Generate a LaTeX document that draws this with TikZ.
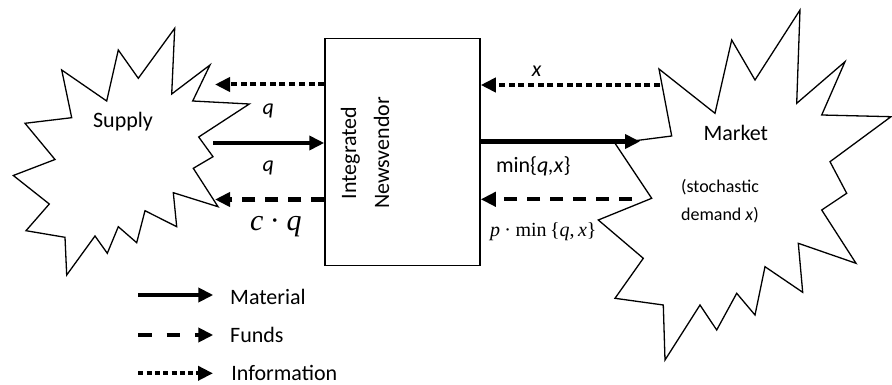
\documentclass[tikz,border=0pt]{standalone}
\usepackage{fontspec}
\setmainfont{Carlito}
\newfontfamily\tnr{Liberation Serif}
\usetikzlibrary{arrows.meta}
\begin{document}
\begin{tikzpicture}[x=1pt,y=-1pt,
  star/.style={draw=black, line width=1.3pt, line join=miter, fill=white},
  tip/.style={-{Triangle[length=15pt,width=14pt]}},
  mat/.style={tip, line width=4.5pt},
  fund/.style={tip, line width=4pt, dash pattern=on 13.3pt off 9.7pt},
  info/.style={tip, line width=4pt, dash pattern=on 6pt off 3.7pt},
  lfund/.style={tip, line width=4pt, dash pattern=on 13.3pt off 15pt},
  linfo/.style={tip, line width=4pt, dash pattern=on 5pt off 3.3pt},
  lbl/.style={inner sep=0pt, font=\fontsize{22}{26}\selectfont},
  tlbl/.style={inner sep=0pt},
]
\useasboundingbox (0,0) rectangle (892,385);

% Supply star
\draw[star] (174.7,28.3) -- (171.7,94) -- (210,65) -- (192.7,101) -- (249.3,104)
  -- (198.7,137) -- (213,156.7) -- (193.3,168.3) -- (218,206.7) -- (173.3,192.7)
  -- (176.7,226.7) -- (145,210.7) -- (136.7,242.7) -- (118.3,226.7) -- (107.3,253.3)
  -- (95,236) -- (66.7,275) -- (65,237.3) -- (26,230.7) -- (49.3,204) -- (13.3,175.5)
  -- (55,159.5) -- (25,123.3) -- (71.7,117.7) -- (61.7,70) -- (106.7,101)
  -- (118.3,50) -- (138.3,78.3) -- cycle;

% Market star
\draw[star] (659,69) -- (671.7,136) -- (615,143.3) -- (651.7,198.3) -- (598.3,220)
  -- (643.3,258.3) -- (615,298.3) -- (663.3,305) -- (665,360) -- (700,305)
  -- (716.7,330) -- (736.7,293.3) -- (755,315) -- (765,266.7) -- (802.7,292.3)
  -- (798.3,243.3) -- (856,263.3) -- (821.7,210) -- (846.7,193.3) -- (830,161.7)
  -- (891,116.7) -- (821.7,115) -- (845,61.7) -- (796.7,103.3) -- (800,10)
  -- (755,80) -- (731.7,40) -- (715,113.3) -- cycle;

\node[lbl] (supply) at (123,122) {Supply};
\node[lbl] (market) at (735.8,132.7) {Market};
\node[tlbl, align=left, font=\fontsize{18}{27.5}\selectfont] (demand) at (720,201)
  {(stochastic\\demand \textit{x})};

% Box
\node[draw, line width=1.5pt, minimum width=155pt, minimum height=227.4pt, inner sep=0pt] (box) at (402.5,152) {};
\node[tlbl, rotate=90, align=center, font=\fontsize{22}{33}\selectfont] (boxtxt) at (365,153)
  {Integrated\\Newsvendor};

% Connector end points
\coordinate (sI) at (215,84.5);
\coordinate (sM) at (213,143);
\coordinate (sF) at (215,199.5);
\coordinate (mI) at (660,85);
\coordinate (mM) at (640,141.5);
\coordinate (mF) at (632,199.3);

\draw[info] (box.west |- sI) -- (sI);
\draw[mat] (sM) -- (box.west |- sM);
\draw[fund] (box.west |- sF) -- (sF);
\draw[info] (mI) -- (box.east |- mI);
\draw[mat] (box.east |- mM) -- (mM);
\draw[fund] (mF) -- (box.east |- mF);

% Labels
\node[lbl] (q1) at (268.3,110.8) {\textit{q}};
\node[lbl] (q2) at (268.3,167.5) {\textit{q}};
\node[tlbl, font=\fontsize{30}{34}\selectfont\tnr] (cq) at (275.8,226.3)
  {\textit{c}\hspace{0.22em}·\hspace{0.22em}\textit{q}};
\node[lbl] (x1) at (536.7,71.7) {\textit{x}};
\node[lbl] (minqx) at (533.3,166.7) {min\{\textit{q,x}\}};
\node[tlbl, font=\fontsize{20}{24}\selectfont\tnr] (pmin) at (543.3,232)
  {\textit{p}\hspace{0.22em}·\hspace{0.22em}min\hspace{0.17em}\{\textit{q},\hspace{0.17em}\textit{x}\}};

% Legend
\coordinate (l1a) at (138.3,295);
\coordinate (l1b) at (213.3,295);
\coordinate (l2a) at (138.3,335);
\coordinate (l2b) at (213.3,335);
\coordinate (l3a) at (138.3,373.3);
\coordinate (l3b) at (213,373.3);
\draw[mat] (l1a) -- (l1b);
\draw[lfund] (l2a) -- (l2b);
\draw[linfo] (l3a) -- (l3b);
\node[lbl, anchor=west] (lmat) at (230,296.7) {Material};
\node[lbl, anchor=west] (lfun) at (230,335.3) {Funds};
\node[lbl, anchor=west] (linf) at (231.2,372.5) {Information};
\end{tikzpicture}
\end{document}
